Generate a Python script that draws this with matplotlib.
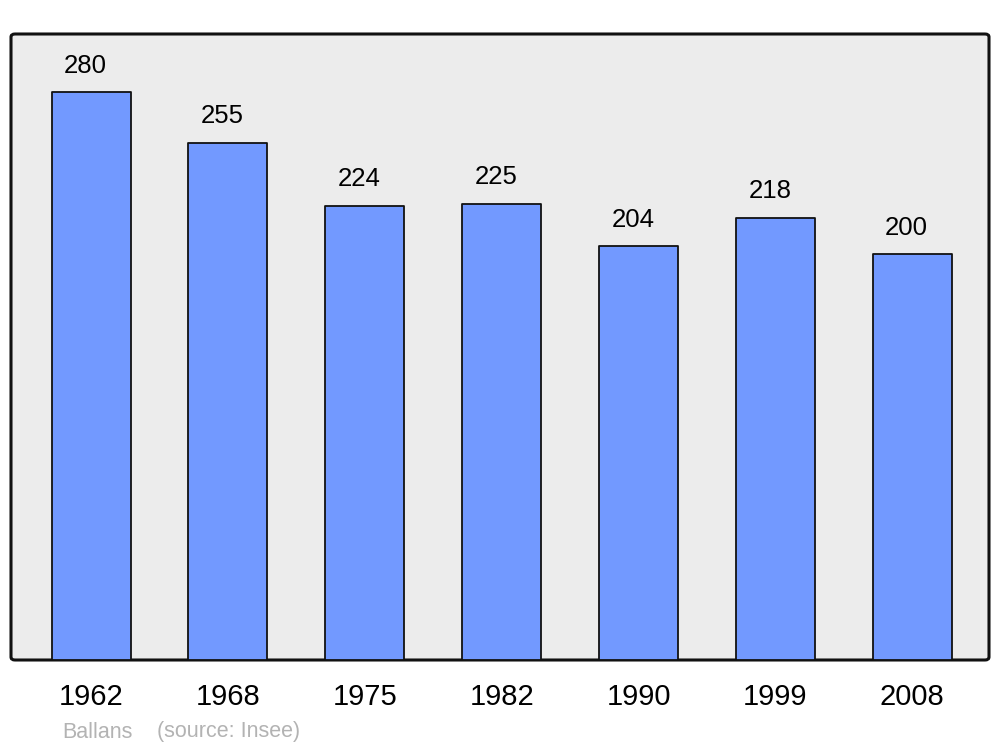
import matplotlib
matplotlib.use("Agg")
import matplotlib.pyplot as plt
from matplotlib.patches import FancyBboxPatch

years = ["1962", "1968", "1975", "1982", "1990", "1999", "2008"]
population = [280, 255, 224, 225, 204, 218, 200]
commune = "Ballans"
source = "(source: Insee)"

plt.rcParams['font.family'] = ['Liberation Sans', 'DejaVu Sans']

fig = plt.figure(figsize=(10, 7.47), dpi=100)
ax = fig.add_axes([0.011, 87 / 747, 0.978, 626 / 747])
ax.set_facecolor('none')
ax.set_zorder(2)

# rounded frame background
frame = FancyBboxPatch((0.011, 87 / 747), 0.978, 626 / 747,
                       boxstyle="round,pad=0,rounding_size=0.004",
                       transform=fig.transFigure, facecolor='#ececec',
                       edgecolor='#111111', linewidth=2.2, zorder=-5)
fig.patches.append(frame)

x = list(range(len(years)))
bars = ax.bar(x, population, width=0.577, color='#7299ff', edgecolor='#111111',
              linewidth=1.3, joinstyle='round', zorder=2)
for xi, v in zip(x, population):
    ax.annotate(str(v), (xi, v), xytext=(-4.0, 19.0), textcoords='offset points',
                ha='center', va='center', fontsize=18.5, color='black')

ax.set_xlim(-0.585, 6.561)
ax.set_ylim(0, 308.6)
ax.set_xticks(x)
ax.set_xticklabels(years, fontsize=21)
ax.tick_params(axis='x', length=0, pad=16.3)
ax.set_yticks([])
for s in ax.spines.values():
    s.set_visible(False)

fig.text(0.062, 1 - 732 / 747, commune, fontsize=15.5, color='#b3b3b3', va='center', ha='left')
fig.text(0.157, 1 - 732 / 747, source, fontsize=15.5, color='#b3b3b3', va='center', ha='left')

fig.savefig("out.png", dpi=100)
